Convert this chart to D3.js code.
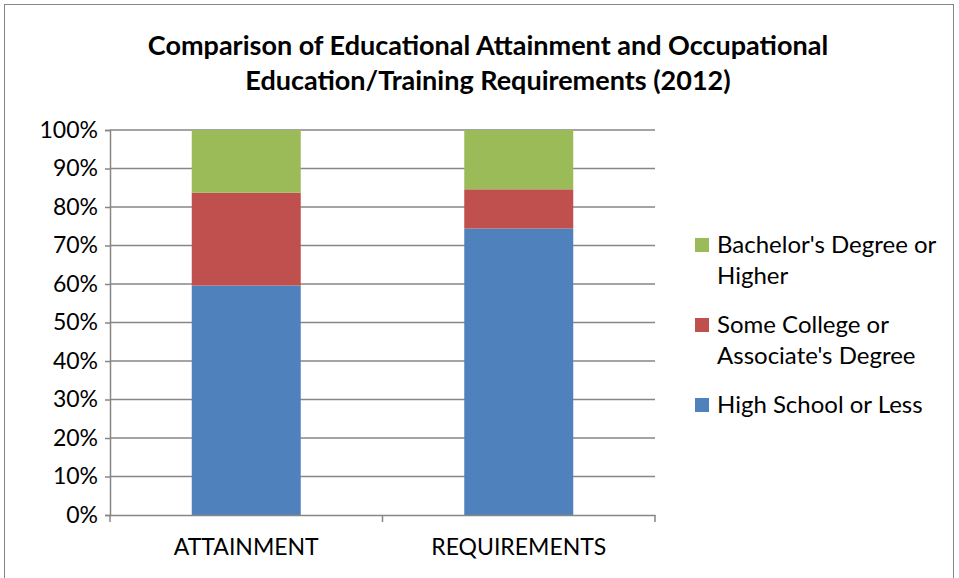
<!DOCTYPE html>
<html>
<head>
<meta charset="utf-8">
<script src="https://cdn.jsdelivr.net/npm/d3@7"></script>
<style>
  body { margin: 0; background: #fff; }
  svg { font-family: Lato, "Open Sans", sans-serif; }
</style>
</head>
<body>
<div id="wrapper"></div>
<script>
const categories = ['ATTAINMENT', 'REQUIREMENTS']
const seriesNames = ['High School or Less', 'Some College or Associate\'s Degree', 'Bachelor\'s Degree or Higher']
const highSchool = [0.596, 0.744]
const someCollege = [0.241, 0.102]
const bachelor = [0.163, 0.154]
const yTicks = [0, 0.1, 0.2, 0.3, 0.4, 0.5, 0.6, 0.7, 0.8, 0.9, 1]
const colors = ['#4f81bd', '#c0504d', '#9bbb59']

const legendLines = [
  ['Bachelor\'s Degree or', 'Higher'],
  ['Some College or', 'Associate\'s Degree'],
  ['High School or Less']
]

const width = 959
const height = 578
let dimensions = {
  width: width,
  height: height,
  margin: { top: 130, right: 304, bottom: 63, left: 110 }
}
dimensions.boundedWidth = dimensions.width - dimensions.margin.left - dimensions.margin.right
dimensions.boundedHeight = dimensions.height - dimensions.margin.top - dimensions.margin.bottom

const rows = categories.map((c, i) => ({
  category: c,
  hs: highSchool[i],
  sc: someCollege[i],
  ba: bachelor[i]
}))
const stack = d3.stack().keys(['hs', 'sc', 'ba'])
const stacked = stack(rows)

const svg = d3.select('#wrapper')
  .append('svg')
  .attr('width', dimensions.width)
  .attr('height', dimensions.height)

// chart frame
svg.append('rect')
  .attr('x', 4.5).attr('y', 4.5)
  .attr('width', 949).attr('height', 600)
  .attr('fill', 'none')
  .attr('stroke', '#868686')

// title
const title = svg.append('text')
  .attr('text-anchor', 'middle')
  .attr('font-weight', 'bold')
  .attr('font-size', '27px')
  .attr('fill', '#000')
title.append('tspan').attr('x', 488).attr('y', 55).text('Comparison of Educational Attainment and Occupational')
title.append('tspan').attr('x', 488).attr('y', 90).text('Education/Training Requirements (2012)')

const bounds = svg.append('g')
  .attr('transform', `translate(${dimensions.margin.left}, ${dimensions.margin.top})`)

const xScale = d3.scaleBand()
  .domain(categories)
  .range([0, dimensions.boundedWidth])

const yScale = d3.scaleLinear()
  .domain([0, 1])
  .range([dimensions.boundedHeight, 0])

// gridlines
bounds.append('g')
  .selectAll('line')
  .data(yTicks.filter(d => d > 0))
  .enter().append('line')
  .attr('x1', 0)
  .attr('x2', dimensions.boundedWidth)
  .attr('y1', d => yScale(d))
  .attr('y2', d => yScale(d))
  .attr('stroke', '#868686')
  .attr('stroke-width', 1.5)

// bars
const barWidth = xScale.bandwidth() * 0.4
bounds.append('g')
  .selectAll('g')
  .data(stacked)
  .enter().append('g')
  .attr('fill', (d, i) => colors[i])
  .selectAll('rect')
  .data(d => d)
  .enter().append('rect')
  .attr('x', d => xScale(d.data.category) + (xScale.bandwidth() - barWidth) / 2)
  .attr('y', d => yScale(d[1]))
  .attr('width', barWidth)
  .attr('height', d => yScale(d[0]) - yScale(d[1]))

// y axis
const yAxis = bounds.append('g')
  .call(d3.axisLeft(yScale)
    .tickValues(yTicks)
    .tickFormat(d3.format('.0%'))
    .tickSize(5)
    .tickPadding(7))
yAxis.select('.domain').attr('stroke', '#868686').attr('stroke-width', 1.5)
yAxis.selectAll('.tick line').attr('stroke', '#868686').attr('stroke-width', 1.5)
yAxis.selectAll('.tick text')
  .attr('font-size', '23px')
  .attr('fill', '#000')
  .attr('font-family', 'Lato, "Open Sans", sans-serif')

// x axis
const xAxis = bounds.append('g')
  .attr('transform', `translate(0, ${dimensions.boundedHeight})`)
  .call(d3.axisBottom(xScale).tickSize(0).tickPadding(24))
xAxis.select('.domain').attr('stroke', '#868686').attr('stroke-width', 1.5)
xAxis.selectAll('.tick text')
  .attr('font-size', '23px')
  .attr('fill', '#000')
  .attr('font-family', 'Lato, "Open Sans", sans-serif')

// category separators on the x axis
const bounds_x = [0, xScale.bandwidth(), dimensions.boundedWidth]
xAxis.selectAll('.sep')
  .data(bounds_x)
  .enter().append('line')
  .attr('class', 'sep')
  .attr('x1', d => d).attr('x2', d => d)
  .attr('y1', 0).attr('y2', 7)
  .attr('stroke', '#868686')
  .attr('stroke-width', 1.5)

// legend
const legendY = [245, 325, 405]
const legend = svg.append('g')
  .attr('transform', 'translate(695, 0)')
const legendItems = legend.selectAll('g')
  .data(legendLines)
  .enter().append('g')
  .attr('transform', (d, i) => `translate(0, ${legendY[i]})`)
legendItems.append('rect')
  .attr('x', 0).attr('y', -7)
  .attr('width', 14).attr('height', 14)
  .attr('fill', (d, i) => colors[2 - i])
legendItems.append('text')
  .attr('font-size', '24px')
  .attr('fill', '#000')
  .selectAll('tspan')
  .data(d => d)
  .enter().append('tspan')
  .attr('x', 22)
  .attr('y', (d, j) => j * 31 + 8)
  .text(d => d)
</script>
</body>
</html>
